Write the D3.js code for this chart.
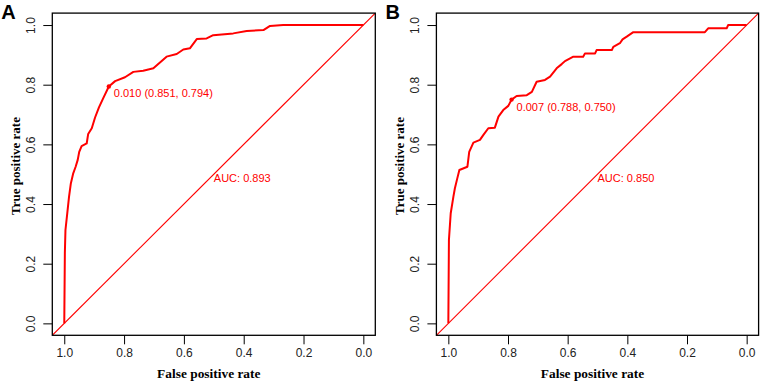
<!DOCTYPE html>
<html>
<head>
<meta charset="utf-8">
<script src="https://cdn.jsdelivr.net/npm/d3@7"></script>
<style>
  body { margin: 0; background: #fff; }
  svg { display: block; }
</style>
</head>
<body>
<svg id="chart" width="761" height="382"></svg>
<script>
// ROC points (specificity, sensitivity)
const specA = [1.000, 0.998, 0.996, 0.990, 0.984, 0.978, 0.970, 0.962, 0.955, 0.950, 0.942, 0.925, 0.920, 0.908, 0.897, 0.884, 0.870, 0.851,
               0.830, 0.797, 0.769, 0.736, 0.702, 0.658, 0.624, 0.602, 0.580, 0.557, 0.524, 0.502, 0.435, 0.390, 0.334, 0.312, 0.268, 0.000];
const sensA = [0.000, 0.236, 0.313, 0.369, 0.425, 0.469, 0.503, 0.525, 0.548, 0.575, 0.594, 0.603, 0.635, 0.654, 0.690, 0.724, 0.754, 0.794,
               0.812, 0.825, 0.843, 0.847, 0.855, 0.894, 0.903, 0.918, 0.922, 0.953, 0.955, 0.966, 0.972, 0.980, 0.983, 0.997, 1.000, 1.000];

const specB = [1.000, 0.998, 0.992, 0.983, 0.978, 0.970, 0.963, 0.936, 0.930, 0.916, 0.894, 0.883, 0.866, 0.844, 0.832, 0.816, 0.799, 0.788,
               0.771, 0.737, 0.720, 0.704, 0.676, 0.659, 0.637, 0.620, 0.609, 0.581, 0.548, 0.542, 0.508, 0.503, 0.452, 0.447, 0.425, 0.416,
               0.402, 0.380, 0.140, 0.129, 0.067, 0.062, 0.000];
const sensB = [0.000, 0.280, 0.369, 0.425, 0.453, 0.486, 0.514, 0.525, 0.575, 0.606, 0.615, 0.631, 0.654, 0.656, 0.693, 0.715, 0.729, 0.750,
               0.762, 0.765, 0.776, 0.810, 0.816, 0.827, 0.855, 0.869, 0.879, 0.894, 0.894, 0.905, 0.905, 0.916, 0.916, 0.927, 0.939, 0.952,
               0.961, 0.976, 0.976, 0.989, 0.989, 1.000, 1.000];

const thresholds = [{thr: "0.010", spec: 0.851, sens: 0.794}, {thr: "0.007", spec: 0.788, sens: 0.750}];
const aucs = ["0.893", "0.850"];
const panelNames = ["A", "B"];
const tickVals = [1.0, 0.8, 0.6, 0.4, 0.2, 0.0];

const svg = d3.select("#chart");
const sans = "Liberation Sans, Arial, sans-serif";
const serif = "Liberation Serif, Times New Roman, serif";

function drawPanel(p) {
    const spec = p.spec, sens = p.sens;
    const x = d3.scaleLinear().domain([1.04, -0.04]).range([p.left, p.right]);
    const y = d3.scaleLinear().domain([-0.04, 1.04]).range([335.3, 13.1]);

    const g = svg.append("g");

    // clip for the diagonal
    const clipId = "clip" + p.name;
    g.append("clipPath").attr("id", clipId)
        .append("rect")
        .attr("x", p.left).attr("y", 13.1)
        .attr("width", p.right - p.left).attr("height", 335.3 - 13.1);

    // reference line
    g.append("line")
        .attr("clip-path", `url(#${clipId})`)
        .attr("x1", x(1.04)).attr("y1", y(-0.04))
        .attr("x2", x(-0.04)).attr("y2", y(1.04))
        .attr("stroke", "#ff0000")
        .attr("stroke-width", 1.1);

    // ROC curve
    const line = d3.line()
        .x(d => x(d[0]))
        .y(d => y(d[1]));
    g.append("path")
        .datum(spec.map((s, i) => [s, sens[i]]))
        .attr("d", line)
        .attr("fill", "none")
        .attr("stroke", "#ff0000")
        .attr("stroke-width", 2)
        .attr("stroke-linejoin", "round");

    // best threshold
    g.append("circle")
        .attr("cx", x(p.thres.spec)).attr("cy", y(p.thres.sens))
        .attr("r", 2.2)
        .attr("fill", "#ff0000");
    g.append("text")
        .attr("x", x(p.thres.spec) + 5)
        .attr("y", y(p.thres.sens) + 11)
        .attr("font-family", sans)
        .attr("font-size", 11)
        .attr("fill", "#ff0000")
        .text(`${p.thres.thr} (${p.thres.spec.toFixed(3)}, ${p.thres.sens.toFixed(3)})`);

    // AUC
    g.append("text")
        .attr("x", x(0.5))
        .attr("y", y(0.5) + 8)
        .attr("font-family", sans)
        .attr("font-size", 11)
        .attr("fill", "#ff0000")
        .text("AUC: " + p.auc);

    // axes
    const xAxis = g.append("g")
        .attr("transform", "translate(0,335.3)")
        .call(d3.axisBottom(x).tickValues(tickVals).tickFormat(d3.format(".1f")).tickSize(9).tickPadding(4));
    xAxis.select(".domain").remove();
    xAxis.selectAll("text")
        .attr("font-family", sans)
        .attr("font-size", 12)
        .attr("fill", "#222");

    const yAxis = g.append("g")
        .attr("transform", `translate(${p.left},0)`)
        .call(d3.axisLeft(y).tickValues(tickVals).tickFormat(d3.format(".1f")).tickSize(9));
    yAxis.select(".domain").remove();
    yAxis.selectAll("text")
        .attr("font-family", sans)
        .attr("font-size", 12)
        .attr("fill", "#222")
        .attr("text-anchor", "middle")
        .attr("x", 0).attr("dy", 0)
        .attr("transform", "translate(-21,0) rotate(-90)")
        .attr("y", 4);

    // box
    g.append("rect")
        .attr("x", p.left).attr("y", 13.1)
        .attr("width", p.right - p.left).attr("height", 335.3 - 13.1)
        .attr("fill", "none")
        .attr("stroke", "#000")
        .attr("stroke-width", 1.3);

    // axis titles
    g.append("text")
        .attr("x", (p.left + p.right) / 2 - 5)
        .attr("y", 377.5)
        .attr("text-anchor", "middle")
        .attr("font-family", serif)
        .attr("font-weight", "bold")
        .attr("font-size", 13.4)
        .text("False positive rate");
    g.append("text")
        .attr("transform", `translate(${p.left - 32.5},166) rotate(-90)`)
        .attr("text-anchor", "middle")
        .attr("font-family", serif)
        .attr("font-weight", "bold")
        .attr("font-size", 13)
        .text("True positive rate");

    // panel letter
    g.append("text")
        .attr("x", p.left - 51)
        .attr("y", 19)
        .attr("font-family", sans)
        .attr("font-weight", "bold")
        .attr("font-size", 20)
        .text(p.name);
}

drawPanel({name: panelNames[0], left: 52.3, right: 375.3, spec: specA, sens: sensA, thres: thresholds[0], auc: aucs[0]});
drawPanel({name: panelNames[1], left: 436.4, right: 758.6, spec: specB, sens: sensB, thres: thresholds[1], auc: aucs[1]});
</script>
</body>
</html>
